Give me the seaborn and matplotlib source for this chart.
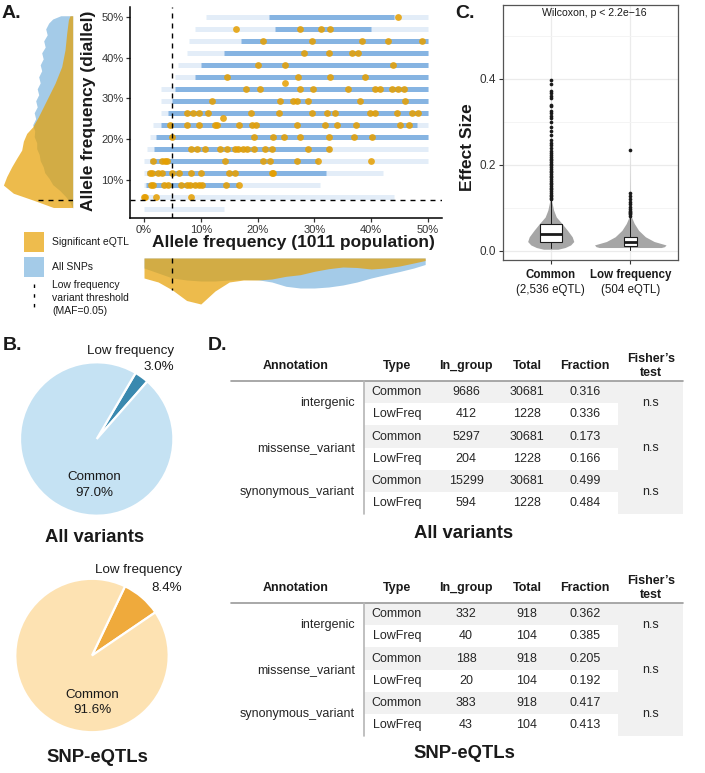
import numpy as np
import pandas as pd
import matplotlib.pyplot as plt
import seaborn as sns
from matplotlib.patches import Rectangle

# ---------------- Panel A data ----------------
# allele frequency levels of the diallel (k/34), in %
row_levels = [2.94, 5.88, 8.82, 11.76, 14.71, 17.65, 20.59, 23.53, 26.47,
              29.41, 32.35, 35.29, 38.24, 41.18, 44.12, 47.06, 50.0]
# extent (1011 population AF, %) of the dense / sparse part of each SNP band
dense_start = [np.nan, np.nan, 0.3, 0.5, 1.0, 1.8, 2.2, 3.0, 4.3, 5.0, 5.5, 9.0, 10.0, 14.0, 17.0, 23.0, 22.0]
dense_end = [np.nan, np.nan, 16.5, 32.0, 30.7, 33.0, 50.0, 48.0, 50.0, 50.0, 50.0, 50.0, 50.0, 50.0, 50.0, 40.0, 44.0]
sparse_start = [0.0, 0.0, 0.0, 0.0, 0.0, 0.5, 1.0, 1.6, 3.0, 3.0, 3.0, 5.5, 6.0, 7.5, 8.0, 9.0, 11.0]
sparse_end = [14.0, 44.0, 31.0, 42.0, 50.0, 50.0, 50.0, 50.0, 50.0, 50.0, 50.0, 50.0, 50.0, 50.0, 50.0, 50.0, 50.0]

# significant eQTL, one list of x (%) per diallel level
eqtl_row_y = [50.0, 47.06, 44.12, 41.18, 38.24, 35.29, 33.8, 32.35, 29.41,
              26.47, 25.1, 23.53, 20.59, 17.65, 14.71, 11.76, 8.82, 5.88]
eqtl_row_x = [
    [44.8],
    [16.2, 27.5, 31.2, 32.8],
    [20.9, 29.5, 38.3, 42.9, 49.0],
    [28.1, 32.5, 36.6, 37.7],
    [20.1, 24.8, 43.9],
    [14.6, 27.2, 32.8, 38.9],
    [24.8],
    [18.0, 20.4, 27.5, 29.8, 36.0, 40.6, 41.6, 43.6, 44.8, 45.7],
    [11.9, 24.0, 26.3, 26.9, 28.9, 38.0, 45.9],
    [7.5, 8.7, 9.6, 11.3, 18.8, 23.7, 29.5, 32.2, 33.6, 39.8, 40.6, 44.5, 47.1, 48.3],
    [13.9],
    [4.6, 7.6, 9.7, 12.5, 12.9, 16.8, 19.0, 19.7, 26.9, 31.8, 33.9, 37.3, 45.1, 46.7],
    [4.9, 19.4, 22.7, 24.6, 27.5, 32.5, 36.9, 40.1],
    [8.2, 9.3, 10.7, 13.3, 14.6, 16.0, 16.6, 17.5, 18.1, 19.4, 21.3, 22.5, 28.9, 32.5],
    [1.6, 3.2, 3.7, 4.1, 14.2, 21.0, 22.2, 26.9, 30.6, 40.0],
    [1.1, 1.4, 2.5, 3.1, 4.9, 6.1, 8.2, 10.0, 15.0, 16.0, 22.5, 22.7],
    [1.2, 1.6, 3.5, 4.3, 6.6, 7.5, 8.1, 9.0, 9.6, 10.2, 14.4, 16.8],
    [0.0, 0.2, 2.1, 8.2],
]

# left margin: density of diallel AF (width)
dens_y_orange = [3.2, 5.0, 6.7, 8.7, 10.8, 13.2, 15.3, 17.3, 19.5, 21.4, 23.0, 25.5, 29.6, 33.7, 37.8, 41.9, 46.0, 49.3, 50.3]
dens_w_orange = [19.3, 39.3, 59.3, 69.3, 66.0, 61.0, 56.0, 51.0, 49.3, 46.0, 40.0, 34.3, 26.0, 17.7, 11.0, 7.7, 6.0, 4.3, 2.7]
dens_y_blue = [3.0, 4.4, 5.88, 7.4, 8.82, 10.3, 11.76, 13.2, 14.71, 16.2, 17.65, 19.1, 20.59, 22.0, 23.53, 25.0, 26.47,
               27.9, 29.41, 30.9, 32.35, 33.8, 35.29, 36.8, 38.24, 39.7, 41.18, 42.6, 44.12, 45.6, 47.06, 48.5, 49.5, 50.3]
dens_w_blue = [0, 2.5, 7, 13, 20, 23.5, 28, 29.5, 32.5, 33.5, 36, 36, 38.5, 38, 40, 37, 38.5,
               35.5, 37, 34, 35.5, 32.5, 34, 31, 32.5, 29.5, 31, 27.5, 29, 25.5, 27, 24, 20, 12]
# bottom margin: density of 1011 population AF
dens_x = [0, 2.5, 5, 7.5, 10, 12.5, 15, 17.5, 20, 22.5, 25, 27.5, 30, 32.5, 35, 37.5, 40, 42.5, 45, 47.5, 49.5]
dens_d_orange = [20, 24, 32, 42.5, 46, 33, 24, 22, 22, 21, 18.3, 16.7, 13.3, 10.7, 9, 9.5, 11, 10, 8, 5, 2.5]
dens_d_blue = [10, 15, 20, 22, 23, 23, 22, 21.5, 21.7, 24, 28.3, 30, 30, 29, 27, 24, 20, 16.7, 13.5, 10, 6.5]

# ---------------- Panel B data ----------------
pie_labels = ["Low frequency", "Common"]
all_pct = [3.0, 97.0]
eqtl_pct = [8.4, 91.6]

# ---------------- Panel C data ----------------
c_groups = ["Common", "Low frequency"]
c_counts = ["(2,536 eQTL)", "(504 eQTL)"]
common_vy = [0.004, 0.008, 0.014, 0.022, 0.033, 0.048, 0.064, 0.079, 0.095, 0.119, 0.20, 0.30, 0.40]
common_vw = [0.09, 0.18, 0.25, 0.29, 0.27, 0.21, 0.14, 0.07, 0.036, 0.009, 0.003, 0.002, 0.0]
low_vy = [0.008, 0.010, 0.014, 0.022, 0.033, 0.048, 0.064, 0.080, 0.12, 0.235]
low_vw = [0.39, 0.43, 0.45, 0.30, 0.19, 0.105, 0.05, 0.013, 0.003, 0.0]
box_q1 = [0.0217, 0.0116]
box_med = [0.0388, 0.0217]
box_q3 = [0.063, 0.033]
box_lo = [0.006, 0.003]
box_hi = [0.119, 0.080]
out_common = [0.398, 0.388, 0.371, 0.367, 0.360, 0.355, 0.339, 0.336, 0.326, 0.320, 0.314, 0.309,
              0.301, 0.289, 0.278, 0.270, 0.258, 0.252, 0.246, 0.239, 0.233, 0.227, 0.223, 0.219,
              0.215, 0.211, 0.207, 0.203, 0.199, 0.195, 0.191, 0.187, 0.183, 0.179, 0.175, 0.171,
              0.167, 0.163, 0.159, 0.155, 0.151, 0.147, 0.143, 0.139, 0.135, 0.131, 0.127, 0.123, 0.121]
out_low = [0.235, 0.134, 0.128, 0.121, 0.115, 0.109, 0.103, 0.098, 0.094, 0.091, 0.088, 0.085, 0.082]

# ---------------- Panel D data ----------------
headers = ["Annotation", "Type", "In_group", "Total", "Fraction", "Fisher\u2019s\ntest"]
annotations = ["intergenic", "missense_variant", "synonymous_variant"]
types = ["Common", "LowFreq"]
all_in_group = [9686, 412, 5297, 204, 15299, 594]
all_total = [30681, 1228, 30681, 1228, 30681, 1228]
all_fraction = [0.316, 0.336, 0.173, 0.166, 0.499, 0.484]
all_fisher = ["n.s", "n.s", "n.s"]
eqtl_in_group = [332, 40, 188, 20, 383, 43]
eqtl_total = [918, 104, 918, 104, 918, 104]
eqtl_fraction = [0.362, 0.385, 0.205, 0.192, 0.417, 0.413]
eqtl_fisher = ["n.s", "n.s", "n.s"]

# ---------------- style ----------------
sns.set_theme(style="white")
plt.rcParams['font.family'] = ['Liberation Sans', 'DejaVu Sans']
plt.rcParams['text.color'] = '#1a1a1a'

ORANGE = '#E69F00'
BLUE_FILL = '#a4cbe8'
BLUE_PT = '#5a9ad8'
DASH = (0, (3.6, 3.6))

W, H = 705, 773
fig = plt.figure(figsize=(W / 100, H / 100), dpi=100)


def add_ax(left, top, width, height):
    return fig.add_axes([left / W, 1 - (top + height) / H, width / W, height / H])


# overlay in pixel coordinates for free text, legend and tables
ov = add_ax(0, 0, W, H)
ov.set_xlim(0, W)
ov.set_ylim(H, 0)
ov.axis('off')
ov.patch.set_visible(False)

# ---------------- Panel A ----------------
ax = add_ax(129.8, 7.4, 312.4, 210.9)
lv = np.array(row_levels)
ds, de = np.array(dense_start), np.array(dense_end)
m = ~np.isnan(ds)
ax.hlines(lv, sparse_start, sparse_end, color=BLUE_PT, alpha=0.17, lw=3.6, zorder=1)
ax.hlines(lv[m], ds[m], de[m], color=BLUE_PT, alpha=0.68, lw=3.6, zorder=2)

eqtl_df = pd.DataFrame({
    'x': [x for row in eqtl_row_x for x in row],
    'y': [y for y, row in zip(eqtl_row_y, eqtl_row_x) for _ in row],
})
sns.scatterplot(data=eqtl_df, x='x', y='y', color=ORANGE, s=24, alpha=0.85,
                linewidth=0, ax=ax, zorder=3)
ax.axvline(5, color='black', lw=1.0, ls=DASH, zorder=4)
ax.axhline(5, color='black', lw=1.0, ls=DASH, zorder=4)
ax.set_xlim(-2.5, 52.5)
ax.set_ylim(0.55, 52.35)
ax.set_xticks([0, 10, 20, 30, 40, 50])
ax.set_xticklabels([f"{v}%" for v in [0, 10, 20, 30, 40, 50]])
ax.set_yticks([10, 20, 30, 40, 50])
ax.set_yticklabels([f"{v}%" for v in [10, 20, 30, 40, 50]])
ax.set_xlabel('')
ax.set_ylabel('')
sns.despine(ax=ax)
for s in ['left', 'bottom']:
    ax.spines[s].set_color('black')
    ax.spines[s].set_linewidth(1.1)
ax.tick_params(length=3, width=0.9, color='#333333', labelsize=8, labelcolor='#333333', pad=1.5,
               left=True, bottom=True)

# left margin density
axl = add_ax(0, 7.4, 72.7, 210.9)
axl.fill_betweenx(dens_y_blue, 0, dens_w_blue, color=BLUE_FILL, lw=0)
axl.fill_betweenx(dens_y_orange, 0, dens_w_orange, color=ORANGE, alpha=0.7, lw=0)
w5 = np.interp(5, dens_y_orange, dens_w_orange)
axl.plot([0, w5], [5, 5], color='black', lw=1.0, ls=DASH)
axl.set_xlim(72.7, 0)
axl.set_ylim(0.55, 52.35)
axl.axis('off')

# bottom margin density
axb = add_ax(129.8, 258, 312.4, 50)
axb.fill_between(dens_x, 0, dens_d_blue, color=BLUE_FILL, lw=0)
axb.fill_between(dens_x, 0, dens_d_orange, color=ORANGE, alpha=0.7, lw=0)
d5 = np.interp(5, dens_x, dens_d_orange)
axb.plot([5, 5], [0, d5], color='black', lw=1.0, ls=DASH)
axb.set_xlim(-2.5, 52.5)
axb.set_ylim(50, 0)
axb.axis('off')

ov.text(88.5, 111, "Allele frequency (diallel)", rotation=90, ha='center', va='center',
        fontsize=12.5, fontweight='bold')
ov.text(293, 242, "Allele frequency (1011 population)", ha='center', va='center',
        fontsize=12.5, fontweight='bold')

# legend of panel A
ov.add_patch(Rectangle((24, 232), 20, 20, color='#eebc4d', lw=0))
ov.add_patch(Rectangle((24, 257), 20, 20, color=BLUE_FILL, lw=0))
ov.plot([34, 34], [284, 312], color='black', lw=1.0, ls=(0, (2.5, 4.5)))
ov.text(52, 242, "Significant eQTL", va='center', fontsize=7.5)
ov.text(52, 267, "All SNPs", va='center', fontsize=7.5)
ov.text(52, 285.5, "Low frequency", va='center', fontsize=7.5)
ov.text(52, 298, "variant threshold", va='center', fontsize=7.5)
ov.text(52, 310.5, "(MAF=0.05)", va='center', fontsize=7.5)

# ---------------- Panel B ----------------
wedge = dict(edgecolor='white', linewidth=1.6)
axp1 = add_ax(20, 362.3, 153.4, 153.4)
axp1.pie(all_pct, colors=['#3a89af', '#c5e2f3'], startangle=59.5, counterclock=False, wedgeprops=wedge)
axp1.set_xlim(-1, 1)
axp1.set_ylim(-1, 1)
axp1.text(1.01, 1.15, pie_labels[0], ha='right', va='center', fontsize=9.6, clip_on=False)
axp1.text(1.01, 0.94, f"{all_pct[0]:.1f}%", ha='right', va='center', fontsize=9.6, clip_on=False)
axp1.text(-0.035, -0.50, pie_labels[1], ha='center', va='center', fontsize=9.6)
axp1.text(-0.035, -0.71, f"{all_pct[1]:.1f}%", ha='center', va='center', fontsize=9.6)

axp2 = add_ax(15.3, 578.8, 153.4, 153.4)
axp2.pie(eqtl_pct, colors=['#efaa3c', '#fde2b2'], startangle=64.5, counterclock=False, wedgeprops=wedge)
axp2.set_xlim(-1, 1)
axp2.set_ylim(-1, 1)
axp2.text(1.17, 1.11, pie_labels[0], ha='right', va='center', fontsize=9.6, clip_on=False)
axp2.text(1.17, 0.88, f"{eqtl_pct[0]:.1f}%", ha='right', va='center', fontsize=9.6, clip_on=False)
axp2.text(0, -0.51, pie_labels[1], ha='center', va='center', fontsize=9.6)
axp2.text(0, -0.71, f"{eqtl_pct[1]:.1f}%", ha='center', va='center', fontsize=9.6)

ov.text(95, 538, "All variants", ha='center', va='center', fontsize=13.3, fontweight='bold')
ov.text(97, 758, "SNP-eQTLs", ha='center', va='center', fontsize=13.3, fontweight='bold')

# ---------------- Panel C ----------------
axc = add_ax(503, 5, 175, 255)
axc.set_axisbelow(True)
axc.set_yticks([0.0, 0.2, 0.4])
axc.set_yticklabels(["0.0", "0.2", "0.4"])
axc.set_yticks([0.1, 0.3, 0.5], minor=True)
axc.grid(True, which='major', color='#ebebeb', lw=0.9)
axc.grid(True, which='minor', axis='y', color='#f3f3f3', lw=0.6)

for pos, vy, vw in [(1, common_vy, common_vw), (2, low_vy, low_vw)]:
    vw = np.array(vw)
    axc.fill_betweenx(vy, pos - vw, pos + vw, color='#a6a6a6', lw=0, zorder=2)

stats = [dict(med=box_med[i], q1=box_q1[i], q3=box_q3[i], whislo=box_lo[i], whishi=box_hi[i], fliers=[])
         for i in range(2)]
axc.bxp(stats, positions=[1, 2], widths=[0.28, 0.16], patch_artist=True, showfliers=False,
        boxprops=dict(facecolor='white', edgecolor='#1a1a1a', lw=0.8),
        medianprops=dict(color='#1a1a1a', lw=2.0),
        whiskerprops=dict(color='#1a1a1a', lw=0.7),
        capprops=dict(lw=0), zorder=3)

out_df = pd.DataFrame({
    'pos': [1] * len(out_common) + [2] * len(out_low),
    'value': out_common + out_low,
})
sns.scatterplot(data=out_df, x='pos', y='value', color='#1a1a1a', s=7, linewidth=0, ax=axc, zorder=4)
axc.set_xlabel('')
axc.set_ylabel('')
axc.set_xlim(0.4, 2.6)
axc.set_ylim(-0.021, 0.572)
axc.set_xticks([1, 2])
axc.set_xticklabels([])
for s in axc.spines.values():
    s.set_color('#555555')
    s.set_linewidth(0.9)
axc.tick_params(which='major', length=3, width=0.8, color='#333333', labelsize=8.5,
                labelcolor='#333333', pad=2, left=True, bottom=True)
axc.tick_params(which='minor', length=0)
axc.text(1.55, 0.553, "Wilcoxon, p < 2.2e\u221216", ha='center', va='center', fontsize=7.6)
for i, (g, c) in enumerate(zip(c_groups, c_counts)):
    axc.text(i + 1, -0.058, g, transform=axc.get_xaxis_transform(), ha='center', va='center',
             fontsize=8.3, fontweight='bold')
    axc.text(i + 1, -0.117, c, transform=axc.get_xaxis_transform(), ha='center', va='center',
             fontsize=8.3)
ov.text(467.5, 147, "Effect Size", rotation=90, ha='center', va='center', fontsize=12.5, fontweight='bold')

# ---------------- Panel D: tables ----------------
col_x = [296, 397, 466, 527, 585, 651]
ROW_H = 22.2


def draw_table(top, in_group, total, fraction, fisher, title, title_y):
    left, vline, band_right, right, ann_right = 231, 364, 618, 683, 355
    body_h = ROW_H * 6
    # shading
    ov.add_patch(Rectangle((band_right, top), right - band_right, body_h, color='#f1f1f1', lw=0))
    for i in range(6):
        if i % 2 == 0:
            ov.add_patch(Rectangle((vline, top + i * ROW_H), band_right - vline, ROW_H,
                                   color='#f1f1f1', lw=0))
    ov.plot([left, right], [top, top], color='#9a9a9a', lw=1.2)
    ov.plot([vline, vline], [top, top + body_h], color='#b5b5b5', lw=1.2)
    # header
    for h, xc in zip(headers[:-1], col_x[:-1]):
        ov.text(xc, top - 15, h, ha='center', va='center', fontsize=9, fontweight='bold')
    fl = headers[-1].split('\n')
    ov.text(col_x[-1], top - 22, fl[0], ha='center', va='center', fontsize=9, fontweight='bold')
    ov.text(col_x[-1], top - 8, fl[1], ha='center', va='center', fontsize=9, fontweight='bold')
    # body
    for i in range(6):
        yc = top + ROW_H * (i + 0.5)
        vals = [types[i % 2], str(in_group[i]), str(total[i]), f"{fraction[i]:.3f}"]
        for v, xc in zip(vals, col_x[1:5]):
            ov.text(xc, yc, v, ha='center', va='center', fontsize=9, color='#262626')
    for g in range(3):
        yc = top + ROW_H * (2 * g + 1)
        ov.text(ann_right, yc, annotations[g], ha='right', va='center', fontsize=9, color='#262626')
        ov.text(col_x[-1], yc, fisher[g], ha='center', va='center', fontsize=9, color='#262626')
    ov.text(464, title_y, title, ha='center', va='center', fontsize=13.3, fontweight='bold')


draw_table(381, all_in_group, all_total, all_fraction, all_fisher, "All variants", 533)
draw_table(603, eqtl_in_group, eqtl_total, eqtl_fraction, eqtl_fisher, "SNP-eQTLs", 753)

# panel letters
for lab, x, y in [("A.", 2, 14), ("B.", 3, 346), ("C.", 455, 13), ("D.", 208, 346)]:
    ov.text(x, y, lab, ha='left', va='center', fontsize=14, fontweight='bold')

fig.savefig('out.png', dpi=100)
